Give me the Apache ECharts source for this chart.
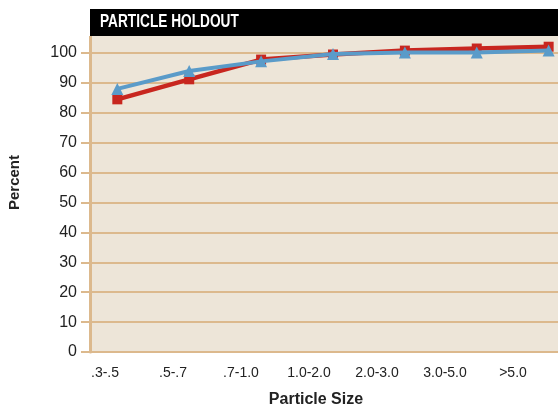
<!DOCTYPE html>
<html><head><meta charset="utf-8">
<script src="https://cdn.jsdelivr.net/npm/echarts@6/dist/echarts.min.js"></script>
<style>html,body{margin:0;padding:0;background:#fff}#c{width:558px;height:409px}</style>
</head><body><div id="c"></div>
<script>
var categories = ['.3-.5', '.5-.7', '.7-1.0', '1.0-2.0', '2.0-3.0', '3.0-5.0', '>5.0'];
var redValues = [84.5, 91.2, 97.8, 99.5, 100.8, 101.5, 102.1];
var blueValues = [88.0, 94.0, 97.2, 99.7, 100.2, 100.2, 100.8];

var tan = '#dcb98d';
var bg = '#ede5d8';
var font = "'Liberation Sans', Arial, sans-serif";
var chart = echarts.init(document.getElementById('c'));
chart.setOption({
  animation: false,
  graphic: [
    {type: 'rect', shape: {x: 90, y: 36, width: 468, height: 18}, style: {fill: bg}, z: 0},
    {type: 'line', shape: {x1: 90.5, y1: 36, x2: 90.5, y2: 54}, style: {stroke: tan, lineWidth: 3}, z: 1},
    {type: 'rect', shape: {x: 90, y: 9, width: 468, height: 27}, style: {fill: '#000'}, z: 100},
    {type: 'text', x: 100, y: 22, scaleX: 0.72, z: 101,
     style: {text: 'PARTICLE HOLDOUT', fill: '#fff', font: "bold 19px " + font, verticalAlign: 'middle'}}
  ],
  grid: [
    {left: 90, right: 0, top: 53, bottom: 57, show: true, backgroundColor: bg, borderWidth: 0, containLabel: false, outerBoundsMode: 'none'},
    {left: 105, right: 45, top: 53, bottom: 57, show: false, containLabel: false, outerBoundsMode: 'none'}
  ],
  xAxis: [
    {type: 'value', gridIndex: 0, min: -0.38, max: 6.13, show: false},
    {type: 'category', gridIndex: 1, data: categories, boundaryGap: false,
     axisLine: {show: false, onZero: false}, axisTick: {show: false}, splitLine: {show: false},
     axisLabel: {margin: 14, fontSize: 14, color: '#222', fontFamily: font},
     name: 'Particle Size', nameLocation: 'middle', nameGap: 40,
     nameTextStyle: {fontSize: 16, fontWeight: 'bold', color: '#222', fontFamily: font, padding: [0, 0, 0, 14]}}
  ],
  yAxis: [
    {type: 'value', gridIndex: 0, min: 0, max: 100, interval: 10,
     axisLine: {show: true, onZero: false, lineStyle: {color: tan, width: 3}},
     axisTick: {show: true, length: 9, lineStyle: {color: tan, width: 2}},
     splitLine: {show: true, lineStyle: {color: tan, width: 2}},
     axisLabel: {margin: 13, fontSize: 16, color: '#222', fontFamily: font},
     name: 'Percent', nameLocation: 'middle', nameGap: 68, nameRotate: 90,
     nameTextStyle: {fontSize: 15, fontWeight: 'bold', color: '#222', fontFamily: font, padding: [0, 0, 0, 40]}},
    {type: 'value', gridIndex: 1, show: false}
  ],
  series: [
    {type: 'line', xAxisIndex: 0, yAxisIndex: 0, clip: false,
     data: redValues.map(function (v, i) { return [i, v]; }),
     lineStyle: {color: '#c8261f', width: 4.5}, itemStyle: {color: '#c8261f'},
     symbol: 'rect', symbolSize: 10, z: 2},
    {type: 'line', xAxisIndex: 0, yAxisIndex: 0, clip: false,
     data: blueValues.map(function (v, i) { return [i, v]; }),
     lineStyle: {color: '#5a9bc9', width: 4}, itemStyle: {color: '#5a9bc9'},
     symbol: 'triangle', symbolSize: 12, z: 3}
  ]
});
</script></body></html>
